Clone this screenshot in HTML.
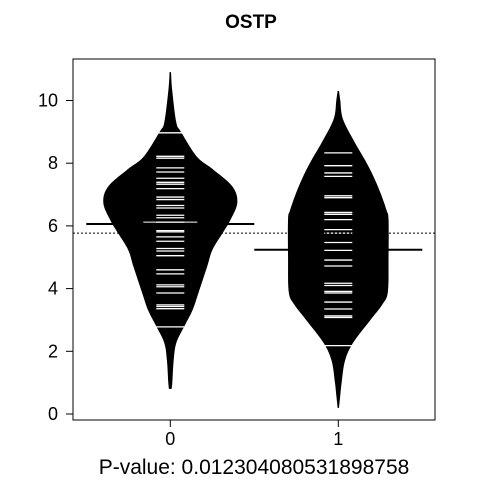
<!DOCTYPE html>
<html><head><meta charset="utf-8"><style>
body{margin:0;background:#fff}
svg{display:block;font-family:"Liberation Sans",Arial,sans-serif}
</style></head><body>
<svg id="chart" width="480" height="480" viewBox="0 0 480 480">
<text x="251" y="28" text-anchor="middle" font-size="19" font-weight="bold">OSTP</text>
<text x="254" y="474" text-anchor="middle" font-size="21">P-value: 0.012304080531898758</text>
<g id="plot"></g>
</svg>
<script>
const categories = ["0", "1"];
const yTicks = [0, 2, 4, 6, 8, 10];
const medians = [6.06, 5.24];
const overallMean = 5.77;
const dens0Values = [0.8, 1.0, 1.7, 2.27, 2.8, 3.3, 3.86, 4.7, 5.24, 5.8, 6.2, 6.74, 7.25, 7.8, 8.2, 9.0, 9.3, 10.3, 10.9];
const dens0Widths = [0.02, 0.03, 0.05, 0.09, 0.21, 0.33, 0.42, 0.55, 0.63, 0.79, 0.9, 1.0, 0.93, 0.64, 0.4, 0.16, 0.09, 0.03, 0.01];
const dens1Values = [0.2, 0.6, 1.0, 1.7, 2.27, 3.0, 3.5, 3.9, 5.0, 6.2, 6.5, 7.05, 7.6, 8.1, 8.65, 9.4, 10.0, 10.3];
const dens1Widths = [0.01, 0.03, 0.05, 0.1, 0.22, 0.48, 0.66, 0.74, 0.75, 0.75, 0.72, 0.63, 0.52, 0.4, 0.25, 0.07, 0.03, 0.01];
const obs0 = [8.97, 8.22, 8.16, 7.85, 7.72, 7.52, 7.39, 7.33, 7.19, 6.92, 6.84, 6.65, 6.57, 6.34, 6.26, 6.12, 5.85, 5.81, 5.65, 5.51, 5.28, 5.20, 5.05, 4.60, 4.47, 4.12, 4.06, 3.86, 3.48, 3.43, 3.36, 2.78];
const obs1 = [8.33, 7.92, 7.69, 7.58, 6.96, 6.90, 6.43, 6.37, 6.20, 5.88, 5.77, 5.47, 5.22, 4.91, 4.72, 4.17, 4.10, 3.91, 3.86, 3.57, 3.35, 3.13, 3.08, 2.18];
const longObs0 = [6.12];

const NS = "http://www.w3.org/2000/svg";
const plot = document.getElementById("plot");
const box = {l: 73, r: 435, t: 59, b: 420};
const y = v => 414 - v * 31.35;
const x = i => 170.3 + i * 168;
const wScale = 67;
function mk(tag, attrs, parent) {
  const e = document.createElementNS(NS, tag);
  for (const k in attrs) e.setAttribute(k, attrs[k]);
  (parent || plot).appendChild(e);
  return e;
}
function smooth(pts) {
  let d = "M" + pts[0][0] + "," + pts[0][1];
  for (let k = 0; k < pts.length - 1; k++) {
    const p0 = pts[Math.max(k - 1, 0)], p1 = pts[k], p2 = pts[k + 1], p3 = pts[Math.min(k + 2, pts.length - 1)];
    const c1 = [p1[0] + (p2[0] - p0[0]) / 6, p1[1] + (p2[1] - p0[1]) / 6];
    const c2 = [p2[0] - (p3[0] - p1[0]) / 6, p2[1] - (p3[1] - p1[1]) / 6];
    d += " C" + c1.join(",") + " " + c2.join(",") + " " + p2.join(",");
  }
  return d;
}
const densV = [dens0Values, dens1Values], densW = [dens0Widths, dens1Widths], obs = [obs0, obs1];
categories.forEach((c, i) => {
  const vals = densV[i], ws = densW[i];
  const right = vals.map((v, k) => [x(i) + ws[k] * wScale, y(v)]);
  const left = vals.map((v, k) => [x(i) - ws[k] * wScale, y(v)]).reverse();
  const d = smooth(right) + " L" + left[0].join(",") + " " + smooth(left).slice(1).replace(/^[^C]*/, "") + " Z";
  const p = mk("path", {d: d, fill: "#000"});
  
  
  const lo = vals[0], hi = vals[vals.length - 1];
  const ax = mk("line", {x1: x(i), x2: x(i), y1: y(lo), y2: y(hi), stroke: "#000", "stroke-width": 1.5});
  
  
  const m = mk("line", {x1: x(i) - 84, x2: x(i) + 84, y1: y(medians[i]), y2: y(medians[i]), stroke: "#000", "stroke-width": 2});
  
  
  obs[i].forEach(v => {
    const l = mk("line", {x1: x(i) - 14, x2: x(i) + 14, y1: y(v), y2: y(v), stroke: "#fff", "stroke-width": 1.3});
    
    
  });
  const tk = mk("line", {x1: x(i), x2: x(i), y1: box.b, y2: box.b + 7, stroke: "#000"});
  
  
  const tl = mk("text", {x: x(i), y: 445, "text-anchor": "middle", "font-size": 18});
  tl.textContent = c;
  
  
});
longObs0.forEach(v => {
  const l = mk("line", {x1: x(0) - 27, x2: x(0) + 27, y1: y(v), y2: y(v), stroke: "#fff", "stroke-width": 1});
  
  
});
const om = mk("line", {x1: box.l, x2: box.r, y1: y(overallMean), y2: y(overallMean), stroke: "#000", "stroke-width": 1, "stroke-dasharray": "2,2"});


yTicks.forEach(t => {
  const l = mk("line", {x1: box.l - 7, x2: box.l, y1: y(t), y2: y(t), stroke: "#000"});
  
  
  const tx = mk("text", {x: 58, y: y(t) + 6, "text-anchor": "end", "font-size": 18});
  tx.textContent = t;
  
  
});
const frame = mk("rect", {x: box.l, y: box.t, width: box.r - box.l, height: box.b - box.t, fill: "none", stroke: "#000", "stroke-width": 1});


</script>
</body></html>
